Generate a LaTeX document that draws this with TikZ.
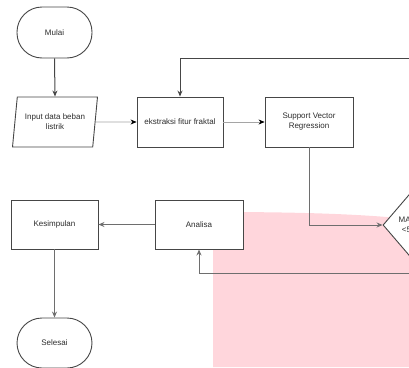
\documentclass[tikz,border=0pt]{standalone}
\usepackage{fontspec}
\setmainfont{Liberation Sans}
\usetikzlibrary{shapes.geometric,arrows.meta}
\definecolor{pinkbg}{RGB}{255,214,220}
\definecolor{linedark}{RGB}{70,70,70}
\definecolor{linemid}{RGB}{110,110,110}
\definecolor{linelight}{RGB}{165,165,165}
\definecolor{txt}{RGB}{45,45,45}
\begin{document}
\begin{tikzpicture}[x=1pt,y=-1pt,
  base/.style={draw=linedark,line width=0.9pt,fill=white,text=txt,font=\fontsize{8}{10}\selectfont,align=center,inner sep=1pt},
  term/.style={base,rectangle,rounded corners=25pt,minimum width=75pt,minimum height=51pt},
  procbox/.style={base,rectangle,minimum height=50pt},
  iobox/.style={base,trapezium,trapezium left angle=75,trapezium right angle=105,trapezium stretches body,minimum width=85pt,minimum height=50pt},
  decbox/.style={base,diamond,minimum width=54pt,minimum height=63pt,inner sep=0pt},
  conn/.style={draw=linemid,line width=1pt,-{Stealth[length=6pt,width=5pt]}},
  connlight/.style={draw=linelight,line width=0.6pt,-{Stealth[length=6pt,width=5pt,color=black]}},
]
\useasboundingbox (0,0) rectangle (409,367);
\clip (0,0) rectangle (409,367);
\fill[pinkbg] (213,367) -- (213,215) .. controls (213,213) and (214,212) .. (217,212)
  .. controls (300,212) and (360,214) .. (409,219) -- (409,367) -- cycle;

\node[term] (mulai) at (54.5,32.5) {Mulai};
\node[iobox] (input) at (55,122) {Input data beban\\listrik};
\node[procbox,minimum width=86pt] (ekstr) at (180,122) {ekstraksi fitur fraktal};
\node[procbox,minimum width=88pt] (svr) at (309,122) {Support Vector\\Regression};
\node[decbox] (dia) at (410,225) {MAPE\\<5\%};
\node[procbox,minimum width=88pt,minimum height=49pt] (analisa) at (199,224.5) {Analisa};
\node[procbox,minimum width=87pt,minimum height=49pt] (kesim) at (54.5,224.5) {Kesimpulan};
\node[term,minimum height=50pt] (selesai) at (54.5,343) {Selesai};

\coordinate (topright) at (440,58);
\draw[conn,draw=linedark] (mulai.south) -- (input.north);
\draw[connlight] (input.east) -- (ekstr.west);
\draw[connlight] (ekstr.east) -- (svr.west);
\draw[conn,draw=linedark] (topright) -| (ekstr.north);
\draw[conn] (svr.south) |- (dia.west);
\draw[conn] (dia.south) -- ++(0,16.5) -| (analisa.south);
\draw[conn] (analisa.west) -- (kesim.east);
\draw[conn] (kesim.south) -- (selesai.north);
\end{tikzpicture}
\end{document}
